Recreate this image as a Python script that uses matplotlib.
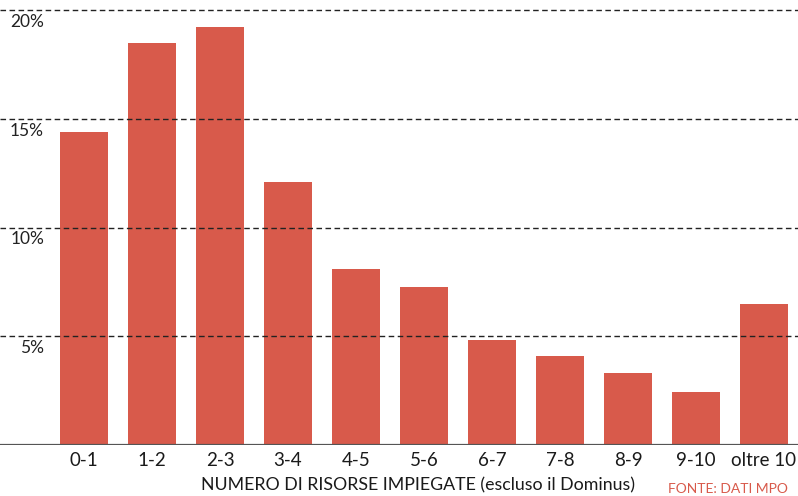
import matplotlib
matplotlib.use("Agg")
import matplotlib.pyplot as plt

categories = ["0-1", "1-2", "2-3", "3-4", "4-5", "5-6", "6-7", "7-8", "8-9", "9-10", "oltre 10"]
shares = [14.4, 18.5, 19.2, 12.1, 8.1, 7.25, 4.85, 4.1, 3.3, 2.45, 6.5]
y_ticks = [5, 10, 15, 20]
y_labels = ["5%", "10%", "15%", "20%"]

plt.rcParams["font.family"] = ["Lato", "DejaVu Sans"]

W, H = 798, 496
fig = plt.figure(figsize=(W / 100, H / 100), dpi=100)
ax = fig.add_axes([0, 51 / H, 1, 435 / H])

x = list(range(len(categories)))
ax.bar(x, shares, width=0.706, color="#d85a4b", zorder=1)

ax.set_xlim(-84 / 68, 714 / 68)
ax.set_ylim(0, 20)

# dashed guides drawn over the bars
for t, lab in zip(y_ticks, y_labels):
    ax.axhline(t, color="#222222", lw=1.0, ls=(0, (4, 2.5)), zorder=3, clip_on=False)
    ax.annotate(lab, xy=(0, t), xycoords=("axes fraction", "data"),
                xytext=(44, -12), textcoords="offset pixels",
                ha="right", va="center", fontsize=12.5, color="#222222")
ax.axhline(0, color="#555555", lw=1.6, zorder=3)

for s in ax.spines.values():
    s.set_visible(False)
ax.set_yticks([])
ax.set_xticks(x)
ax.set_xticklabels(categories, fontsize=13.5, color="#1a1a1a")
ax.tick_params(axis="x", length=0, pad=5)

fig.text(418 / W, 1 - 485 / H, "NUMERO DI RISORSE IMPIEGATE (escluso il Dominus)",
         ha="center", va="center", fontsize=12.8, color="#1a1a1a")
fig.text(668 / W, 1 - 489 / H, "FONTE: DATI MPO", ha="left", va="center",
         fontsize=10, color="#d85a4b")

fig.savefig("out.png", dpi=100)
